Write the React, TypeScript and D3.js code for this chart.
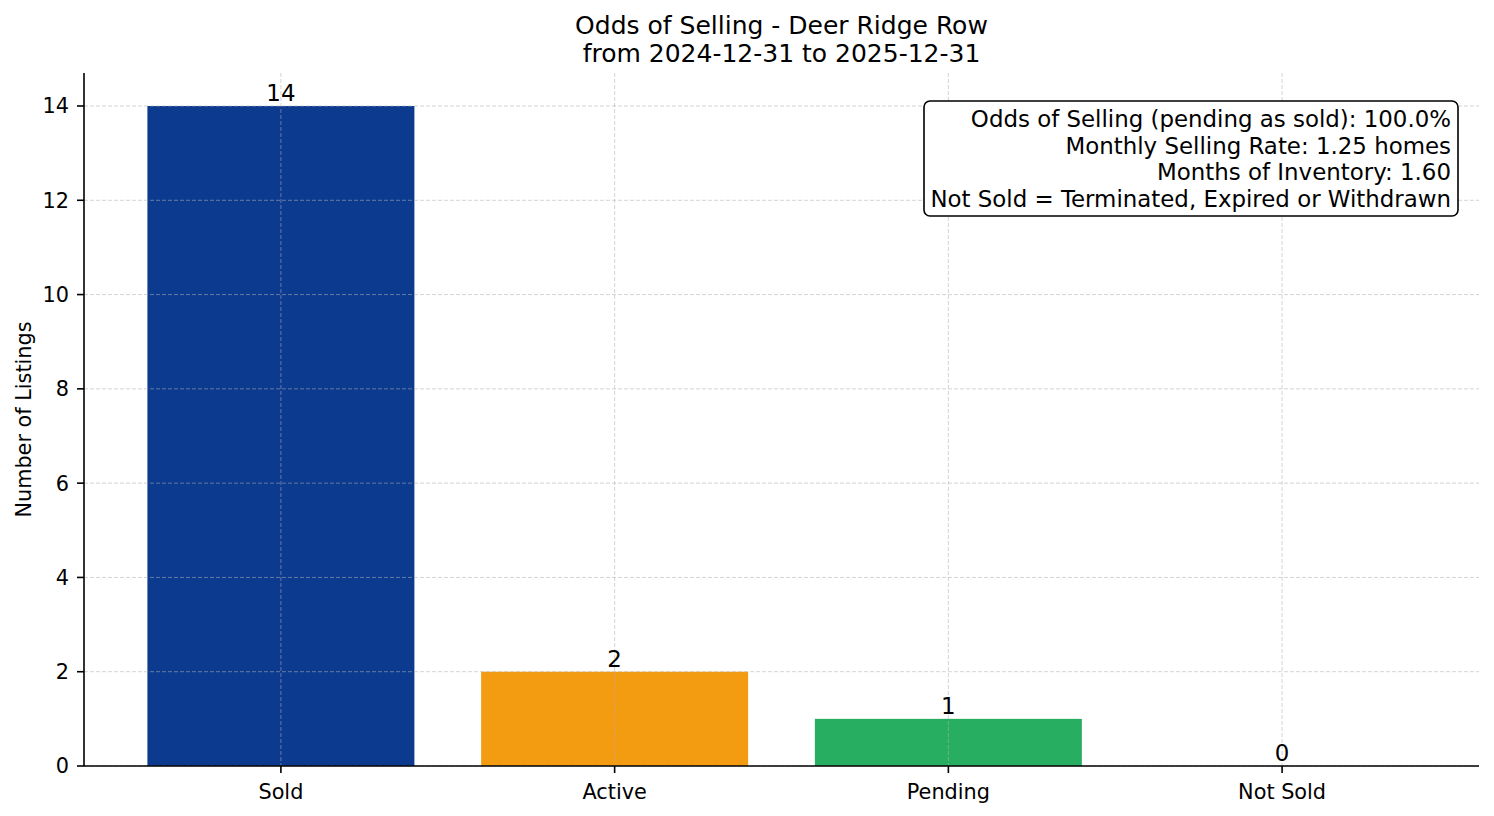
import React from 'react';
import * as d3 from 'd3';

const categories = ['Sold', 'Active', 'Pending', 'Not Sold'];
const counts = [14, 2, 1, 0];
const barColors = ['#0b3a8f', '#f39c12', '#27ae60', '#c0392b'];
const yTicks = [0, 2, 4, 6, 8, 10, 12, 14];
const titleLines = ['Odds of Selling - Deer Ridge Row', 'from 2024-12-31 to 2025-12-31'];
const infoLines = [
  'Odds of Selling (pending as sold): 100.0%',
  'Monthly Selling Rate: 1.25 homes',
  'Months of Inventory: 1.60',
  'Not Sold = Terminated, Expired or Withdrawn',
];

const W = 1494;
const H = 816;
const margin = { top: 73, right: 15, bottom: 50, left: 84 };
const font = 'DejaVu Sans, sans-serif';

export default function App() {
  const x0 = margin.left;
  const x1 = W - margin.right;
  const y0 = H - margin.bottom;
  const y1 = margin.top;

  // matplotlib-like auto margins: bars span -0.4..3.4, 5% padding
  const x = d3.scaleLinear().domain([-0.59, categories.length - 1 + 0.59]).range([x0, x1]);
  const y = d3.scaleLinear().domain([0, 14 * 1.05]).range([y0, y1]);
  const bw = x(0.4) - x(-0.4);

  return (
    <svg width={W} height={H} style={{ position: 'absolute', left: 0, top: 0, fontFamily: font }}>
      <rect width={W} height={H} fill="#fff" />
      {titleLines.map((t, i) => (
        <text key={t} x={(x0 + x1) / 2} y={34 + i * 28} textAnchor="middle" fontSize={25} fill="#000">
          {t}
        </text>
      ))}

      {/* bars */}
      {counts.map((c, i) => (
        <rect key={i} x={x(i) - bw / 2} y={y(c)} width={bw} height={y0 - y(c)} fill={barColors[i]} />
      ))}

      {/* grid on top */}
      <g stroke="#b0b0b0" strokeOpacity={0.55} strokeWidth={1} strokeDasharray="4,2">
        {yTicks.map(t => (
          <line key={'gy' + t} x1={x0} x2={x1} y1={y(t)} y2={y(t)} />
        ))}
        {categories.map((c, i) => (
          <line key={'gx' + c} x1={x(i)} x2={x(i)} y1={y1} y2={y0} />
        ))}
      </g>

      {/* value labels */}
      {counts.map((c, i) => (
        <text key={'v' + i} x={x(i)} y={y(c) - 5} textAnchor="middle" fontSize={22.9} fill="#000">
          {c}
        </text>
      ))}

      {/* axes */}
      <line x1={x0} x2={x0} y1={y1} y2={y0} stroke="#000" strokeWidth={1.6} />
      <line x1={x0} x2={x1} y1={y0} y2={y0} stroke="#000" strokeWidth={1.6} />
      {yTicks.map(t => (
        <g key={'ty' + t}>
          <line x1={x0 - 7} x2={x0} y1={y(t)} y2={y(t)} stroke="#000" strokeWidth={1.6} />
          <text x={x0 - 15} y={y(t)} dy="0.36em" textAnchor="end" fontSize={20.8} fill="#000">
            {t}
          </text>
        </g>
      ))}
      {categories.map((c, i) => (
        <g key={'tx' + c}>
          <line x1={x(i)} x2={x(i)} y1={y0} y2={y0 + 7} stroke="#000" strokeWidth={1.6} />
          <text x={x(i)} y={y0 + 32.5} textAnchor="middle" fontSize={20.8} fill="#000">
            {c}
          </text>
        </g>
      ))}
      <text
        transform={`translate(31,${(y0 + y1) / 2}) rotate(-90)`}
        textAnchor="middle"
        fontSize={20.8}
        fill="#000"
      >
        Number of Listings
      </text>

      {/* info box */}
      <rect x={924} y={101} width={534} height={115} rx={6} fill="#fff" stroke="#000" strokeWidth={1.6} />
      {infoLines.map((t, i) => (
        <text key={t} x={1451} y={127 + i * 26.6} textAnchor="end" fontSize={22.9} fill="#000">
          {t}
        </text>
      ))}
    </svg>
  );
}
